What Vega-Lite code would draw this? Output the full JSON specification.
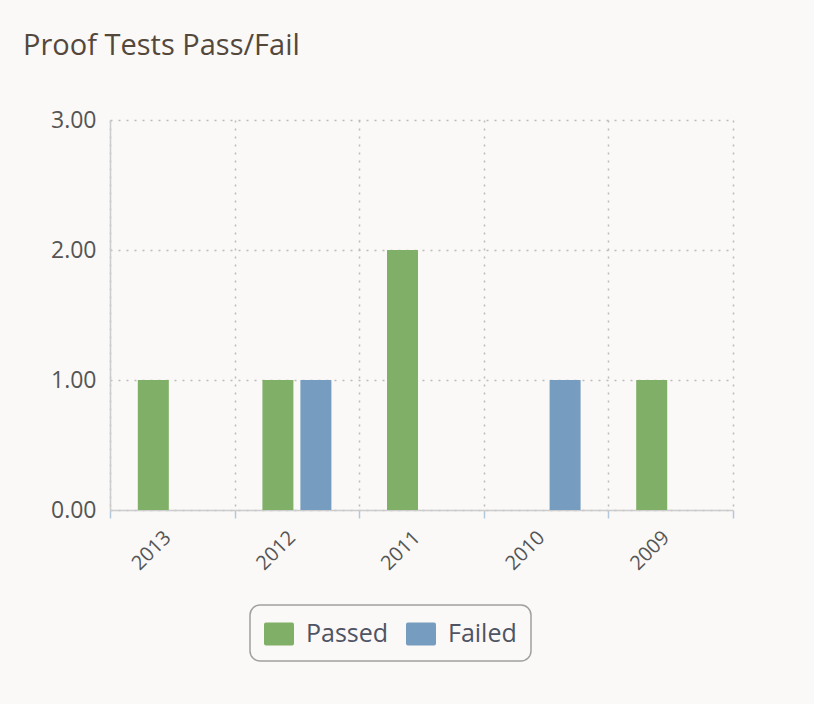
{
  "$schema": "https://vega.github.io/schema/vega-lite/v6.json",
  "width": 623,
  "height": 390,
  "autosize": {"type": "none"},
  "padding": {"left": 110, "top": 120, "right": 81, "bottom": 194},
  "background": "#faf9f7",
  "title": {
    "text": "Proof Tests Pass/Fail",
    "anchor": "start",
    "frame": "group",
    "dx": -87,
    "offset": 48,
    "font": "Open Sans",
    "fontSize": 29,
    "fontWeight": "normal",
    "color": "#54483c"
  },
  "data": {
    "values": [
      {"year": "2013", "status": "Passed", "count": 1},
      {"year": "2013", "status": "Failed", "count": 0},
      {"year": "2012", "status": "Passed", "count": 1},
      {"year": "2012", "status": "Failed", "count": 1},
      {"year": "2011", "status": "Passed", "count": 2},
      {"year": "2011", "status": "Failed", "count": 0},
      {"year": "2010", "status": "Passed", "count": 0},
      {"year": "2010", "status": "Failed", "count": 1},
      {"year": "2009", "status": "Passed", "count": 1},
      {"year": "2009", "status": "Failed", "count": 0}
    ]
  },
  "mark": {"type": "bar"},
  "encoding": {
    "x": {
      "field": "year",
      "type": "nominal",
      "sort": ["2013", "2012", "2011", "2010", "2009"],
      "scale": {"paddingInner": 0, "paddingOuter": 0},
      "axis": {
        "title": null,
        "labelAngle": -45,
        "labelFont": "Open Sans",
        "labelFontSize": 20,
        "labelColor": "#555555",
        "labelPadding": 9,
        "labelOffset": -12,
        "tickBand": "extent",
        "tickColor": "#b4c8dc",
        "tickSize": 8,
        "tickWidth": 1.5,
        "domainColor": "#cccccc",
        "domainWidth": 1.5,
        "grid": true,
        "gridColor": "#bbbbbb",
        "gridDash": [2, 6],
        "gridWidth": 1.5
      }
    },
    "xOffset": {
      "field": "status",
      "type": "nominal",
      "sort": ["Passed", "Failed"],
      "scale": {"paddingInner": 0.184, "paddingOuter": 0.732}
    },
    "y": {
      "field": "count",
      "type": "quantitative",
      "scale": {"domain": [0, 3], "nice": false},
      "axis": {
        "title": null,
        "values": [0, 1, 2, 3],
        "format": ".2f",
        "labelFont": "Open Sans",
        "labelFontSize": 23,
        "labelColor": "#555555",
        "labelPadding": 14,
        "ticks": false,
        "domainColor": "#cccccc",
        "domainWidth": 1.5,
        "grid": true,
        "gridColor": "#bbbbbb",
        "gridDash": [2, 6],
        "gridWidth": 1.5
      }
    },
    "color": {
      "field": "status",
      "type": "nominal",
      "sort": ["Passed", "Failed"],
      "scale": {"domain": ["Passed", "Failed"], "range": ["#80af67", "#769dbf"]},
      "legend": {
        "title": null,
        "orient": "none",
        "direction": "horizontal",
        "legendX": 140,
        "legendY": 485,
        "padding": 14,
        "strokeColor": "#a0a0a0",
        "cornerRadius": 10,
        "fillColor": "#faf9f7",
        "symbolType": "M-0.87,-0.77H0.87Q1,-0.77 1,-0.64V0.64Q1,0.77 0.87,0.77H-0.87Q-1,0.77 -1,0.64V-0.64Q-1,-0.77 -0.87,-0.77Z",
        "symbolSize": 900,
        "symbolStrokeWidth": 0,
        "symbolOpacity": 1,
        "labelFont": "Open Sans",
        "labelFontSize": 25,
        "labelColor": "#4f5464",
        "labelOffset": 12,
        "columnPadding": 17
      }
    }
  },
  "config": {
    "view": {"stroke": null},
    "legend": {"strokeWidth": 1.5}
  }
}
